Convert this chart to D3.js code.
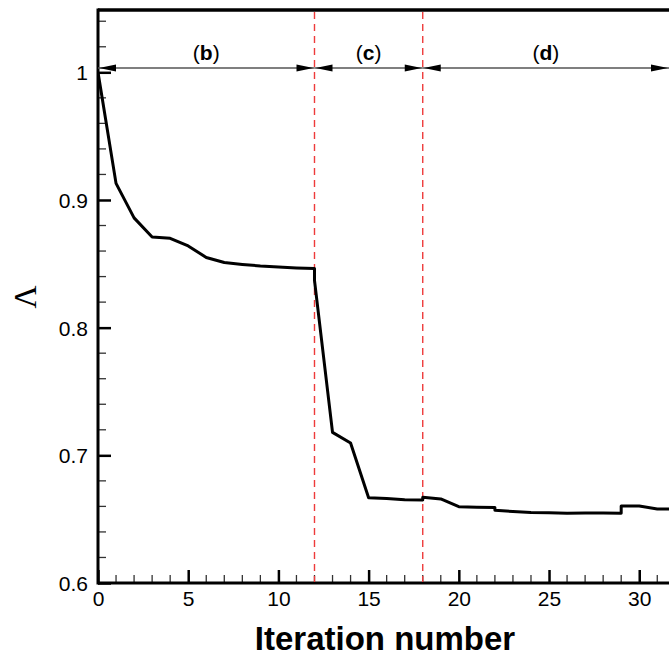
<!DOCTYPE html>
<html>
<head>
<meta charset="utf-8">
<script src="https://cdn.jsdelivr.net/npm/d3@7"></script>
<style>
  html, body { margin: 0; padding: 0; background: #fff; }
  svg { display: block; }
</style>
</head>
<body>
<svg id="chart" width="669" height="661"></svg>
<script>
// Convergence history of the objective Λ over optimisation iterations.
// Repeated iteration numbers mark restarts between stages.
const iterations = [0, 1, 2, 3, 4, 5, 6, 7, 8, 9, 10, 11, 12, 12, 13, 14, 15, 16, 17, 18, 18,
  19, 20, 21, 22, 22, 23, 24, 25, 26, 27, 28, 29, 29, 30, 31, 32];
const lambdaValues = [1.0, 0.913, 0.886, 0.871, 0.870, 0.864, 0.855, 0.851, 0.8495, 0.8483, 0.8475, 0.8468, 0.8464, 0.837,
  0.718, 0.7096, 0.6668, 0.6662, 0.6652, 0.665, 0.6672,
  0.6658, 0.6598, 0.6594, 0.6592, 0.657, 0.656, 0.6553, 0.655, 0.6546, 0.6548, 0.6548, 0.6546, 0.6603,
  0.6603, 0.658, 0.658];

// Stage boundaries (dashed lines) and the labelled stage spans above the curve
const stageBoundaries = [12, 18];
const stageLabels = ["b", "c", "d"];
const stageStarts = [0, 12, 18];
const stageEnds = [12, 18, 31.65];

const xTicksMajor = [0, 5, 10, 15, 20, 25, 30];
const yTicksMajor = [0.6, 0.7, 0.8, 0.9, 1];

const xDomain = [0, 31.65];
const yDomain = [0.6, 1.0488];

(function draw() {
  const svg = d3.select("#chart");
  const pLeft = 98, pRight = 669, pTop = 10, pBottom = 583;
  const sans = "Liberation Sans, Arial, sans-serif";

  const x = d3.scaleLinear().domain(xDomain).range([pLeft, pRight]);
  const y = d3.scaleLinear().domain(yDomain).range([pBottom, pTop]);

  svg.append("defs").append("clipPath").attr("id", "plotClip")
    .append("rect").attr("x", pLeft).attr("y", pTop).attr("width", pRight - pLeft + 10).attr("height", pBottom - pTop);

  // Minor and major ticks pointing into the plot
  const xMinor = d3.range(0, 32, 1).filter(v => v % 5 !== 0);
  const yMinor = d3.range(0.62, 1.05, 0.02).filter(v => Math.abs(v * 10 - Math.round(v * 10)) > 1e-6);

  const xAxis = d3.axisBottom(x).tickValues(xTicksMajor).tickSize(-13).tickPadding(8)
    .tickFormat(d3.format("d"));
  const yAxis = d3.axisLeft(y).tickValues(yTicksMajor).tickSize(-13).tickPadding(10)
    .tickFormat(d => d === 1 ? "1" : d3.format(".1f")(d));

  const gx = svg.append("g").attr("transform", `translate(0,${pBottom})`).call(xAxis);
  const gy = svg.append("g").attr("transform", `translate(${pLeft},0)`).call(yAxis);

  [gx, gy].forEach(g => {
    g.select(".domain").remove();
    g.selectAll(".tick line").attr("stroke", "#000").attr("stroke-width", 2.5);
    g.selectAll(".tick text").attr("font-family", sans)
      .attr("font-size", 21).attr("fill", "#000");
  });
  gy.selectAll(".tick text").attr("dy", "0.36em");
  gx.selectAll(".tick text").attr("dy", "0.71em");

  svg.append("g").selectAll("line").data(xMinor).join("line")
    .attr("x1", d => x(d)).attr("x2", d => x(d))
    .attr("y1", pBottom).attr("y2", pBottom - 8)
    .attr("stroke", "#333").attr("stroke-width", 1.3);
  svg.append("g").selectAll("line").data(yMinor).join("line")
    .attr("x1", pLeft).attr("x2", pLeft + 8)
    .attr("y1", d => y(d)).attr("y2", d => y(d))
    .attr("stroke", "#333").attr("stroke-width", 1.3);

  // Frame
  svg.append("line").attr("x1", pLeft).attr("x2", pRight + 5).attr("y1", pBottom).attr("y2", pBottom)
    .attr("stroke", "#000").attr("stroke-width", 3);
  svg.append("line").attr("x1", pLeft).attr("x2", pRight + 5).attr("y1", pTop).attr("y2", pTop)
    .attr("stroke", "#000").attr("stroke-width", 3.5);
  svg.append("line").attr("x1", pLeft).attr("x2", pLeft).attr("y1", pTop - 1.5).attr("y2", pBottom + 1.5)
    .attr("stroke", "#000").attr("stroke-width", 3);

  // Stage boundaries
  svg.append("g").selectAll("line").data(stageBoundaries).join("line")
    .attr("x1", d => x(d)).attr("x2", d => x(d))
    .attr("y1", pTop + 2).attr("y2", pBottom - 1)
    .attr("stroke", "#ee3b3b").attr("stroke-width", 1.4)
    .attr("stroke-dasharray", "7,5");

  // Stage span arrows
  const arrowY = 68;
  const arrowLen = 17, arrowHalf = 3.6;
  const spans = stageLabels.map((s, i) => ({ label: s, x0: stageStarts[i], x1: stageEnds[i] }));
  const gArrows = svg.append("g");
  spans.forEach(sp => {
    const a = x(sp.x0), b = x(sp.x1);
    gArrows.append("line").attr("x1", a).attr("x2", b).attr("y1", arrowY).attr("y2", arrowY)
      .attr("stroke", "#555").attr("stroke-width", 1.6);
    gArrows.append("path")
      .attr("d", `M${a + 1},${arrowY} L${a + 1 + arrowLen},${arrowY - arrowHalf} L${a + 1 + arrowLen},${arrowY + arrowHalf} Z`)
      .attr("fill", "#000");
    gArrows.append("path")
      .attr("d", `M${b - 1},${arrowY} L${b - 1 - arrowLen},${arrowY - arrowHalf} L${b - 1 - arrowLen},${arrowY + arrowHalf} Z`)
      .attr("fill", "#000");
    const t = gArrows.append("text")
      .attr("x", x((sp.x0 + sp.x1) / 2)).attr("y", 60)
      .attr("text-anchor", "middle")
      .attr("font-family", sans)
      .attr("font-size", 21).attr("fill", "#000");
    t.append("tspan").text("(");
    t.append("tspan").attr("font-weight", "bold").text(sp.label);
    t.append("tspan").text(")");
  });

  // Convergence curve
  const points = iterations.map((it, i) => [it, lambdaValues[i]]);
  svg.append("path").datum(points)
    .attr("clip-path", "url(#plotClip)")
    .attr("fill", "none").attr("stroke", "#000").attr("stroke-width", 3)
    .attr("stroke-linejoin", "round")
    .attr("d", d3.line().x(d => x(d[0])).y(d => y(d[1])));

  // Axis titles
  svg.append("text").attr("x", 385).attr("y", 650).attr("text-anchor", "middle")
    .attr("font-family", sans).attr("font-weight", "bold")
    .attr("font-size", 33).attr("fill", "#000").text("Iteration number");

  svg.append("text").attr("transform", `translate(36,297) rotate(-90)`)
    .attr("text-anchor", "middle")
    .attr("font-family", "Liberation Serif, Times New Roman, serif")
    .attr("font-size", 32).attr("fill", "#000").text("Λ");
})();
</script>
</body>
</html>
